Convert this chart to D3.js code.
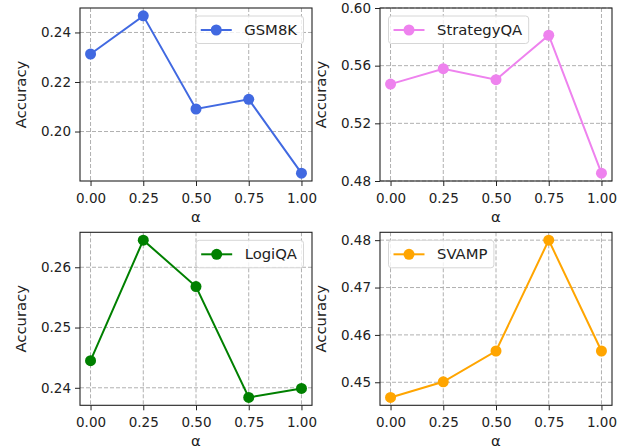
<!DOCTYPE html>
<html>
<head>
<meta charset="utf-8">
<script src="https://cdn.jsdelivr.net/npm/d3@7"></script>
<style>
  body { margin: 0; background: #fff; }
  text { font-family: "DejaVu Sans", sans-serif; fill: #222; }
</style>
</head>
<body>
<div id="chart"></div>
<script>
// alpha values on the x axis
var alphas = [0, 0.25, 0.5, 0.75, 1];
var xTicks = [0, 0.25, 0.5, 0.75, 1];

// accuracy per dataset
var gsm8k = [0.2313, 0.2467, 0.2091, 0.2130, 0.1832];
var strategyqa = [0.5472, 0.5579, 0.5503, 0.5811, 0.4854];
var logiqa = [0.2445, 0.2645, 0.2568, 0.2384, 0.2399];
var svamp = [0.4468, 0.4501, 0.4566, 0.4800, 0.4566];

var gsm8kTicks = [0.20, 0.22, 0.24];
var strategyqaTicks = [0.48, 0.52, 0.56, 0.60];
var logiqaTicks = [0.24, 0.25, 0.26];
var svampTicks = [0.45, 0.46, 0.47, 0.48];

var W = 624, H = 448;
var svg = d3.select("#chart").append("svg")
    .attr("width", W)
    .attr("height", H);

var panels = [
  { name: "GSM8K", values: gsm8k, ticks: gsm8kTicks, color: "#4169E1", x: 80, y: 8, legend: "right" },
  { name: "StrategyQA", values: strategyqa, ticks: strategyqaTicks, color: "#EE82EE", x: 380, y: 8, legend: "left", ylim: [0.48, 0.60] },
  { name: "LogiQA", values: logiqa, ticks: logiqaTicks, color: "#008000", x: 80, y: 232.3, legend: "right" },
  { name: "SVAMP", values: svamp, ticks: svampTicks, color: "#FFA500", x: 380, y: 232.3, legend: "left" }
];

var pw = 232, ph = 173;
var tickFont = "13.5px", labelFont = "14.8px";

function drawPanel(p) {
  var g = svg.append("g").attr("transform", "translate(" + p.x + "," + p.y + ")");

  var x = d3.scaleLinear().domain([-0.05, 1.05]).range([0, pw]);
  var dom = p.ylim;
  if (!dom) {
    var lo = d3.min(p.values), hi = d3.max(p.values), m = (hi - lo) * 0.05;
    dom = [lo - m, hi + m];
  }
  var y = d3.scaleLinear().domain(dom).range([ph, 0]);

  // grid
  g.append("g").selectAll("line").data(xTicks).enter().append("line")
      .attr("x1", function(d) { return x(d); }).attr("x2", function(d) { return x(d); })
      .attr("y1", 0).attr("y2", ph)
      .attr("stroke", "#b0b0b0").attr("stroke-width", 1).attr("stroke-dasharray", "4,2");
  g.append("g").selectAll("line").data(p.ticks).enter().append("line")
      .attr("y1", function(d) { return y(d); }).attr("y2", function(d) { return y(d); })
      .attr("x1", 0).attr("x2", pw)
      .attr("stroke", "#b0b0b0").attr("stroke-width", 1).attr("stroke-dasharray", "4,2");

  // axes
  var xAxis = g.append("g").attr("transform", "translate(0," + ph + ")")
      .call(d3.axisBottom(x).tickValues(xTicks).tickFormat(d3.format(".2f")).tickSize(5).tickPadding(4));
  var yAxis = g.append("g")
      .call(d3.axisLeft(y).tickValues(p.ticks).tickFormat(d3.format(".2f")).tickSize(5).tickPadding(4));
  [xAxis, yAxis].forEach(function(a) {
    a.select(".domain").remove();
    a.selectAll("line").attr("stroke", "#222");
    a.selectAll("text").style("font-family", "DejaVu Sans").style("font-size", tickFont).attr("fill", "#222");
  });
  xAxis.selectAll("text").attr("dy", "0.95em");

  g.append("rect").attr("width", pw).attr("height", ph)
      .attr("fill", "none").attr("stroke", "#222").attr("stroke-width", 1.1);

  // line + markers
  var line = d3.line()
      .x(function(d, i) { return x(alphas[i]); })
      .y(function(d) { return y(d); });
  g.append("path").datum(p.values)
      .attr("d", line).attr("fill", "none")
      .attr("stroke", p.color).attr("stroke-width", 2);
  g.selectAll(".dot").data(p.values).enter().append("circle")
      .attr("cx", function(d, i) { return x(alphas[i]); })
      .attr("cy", function(d) { return y(d); })
      .attr("r", 5.5).attr("fill", p.color);

  // labels
  g.append("text")
      .attr("transform", "translate(" + (-54) + "," + (ph / 2) + ") rotate(-90)")
      .attr("text-anchor", "middle").style("font-size", labelFont)
      .text("Accuracy");
  g.append("text")
      .attr("x", pw / 2).attr("y", ph + 41)
      .attr("text-anchor", "middle").style("font-size", labelFont)
      .text("α");

  // legend
  var lg = g.append("g");
  var box = lg.append("rect");
  lg.append("line").attr("x1", 5).attr("x2", 36).attr("y1", 14).attr("y2", 14)
      .attr("stroke", p.color).attr("stroke-width", 2);
  lg.append("circle").attr("cx", 20.5).attr("cy", 14).attr("r", 5.5).attr("fill", p.color);
  var t = lg.append("text").attr("x", 48.5).attr("y", 19).style("font-size", labelFont).text(p.name);
  var lw = 48.5 + t.node().getComputedTextLength() + 6.5;
  box.attr("width", lw).attr("height", 27.5).attr("rx", 3)
      .attr("fill", "#fff").attr("fill-opacity", 0.8)
      .attr("stroke", "#d6d6d6").attr("stroke-width", 1);
  var lx = p.legend === "right" ? pw - lw - 8.5 : 8.5;
  lg.attr("transform", "translate(" + lx + ",8)");
}

panels.forEach(drawPanel);
</script>
</body>
</html>
